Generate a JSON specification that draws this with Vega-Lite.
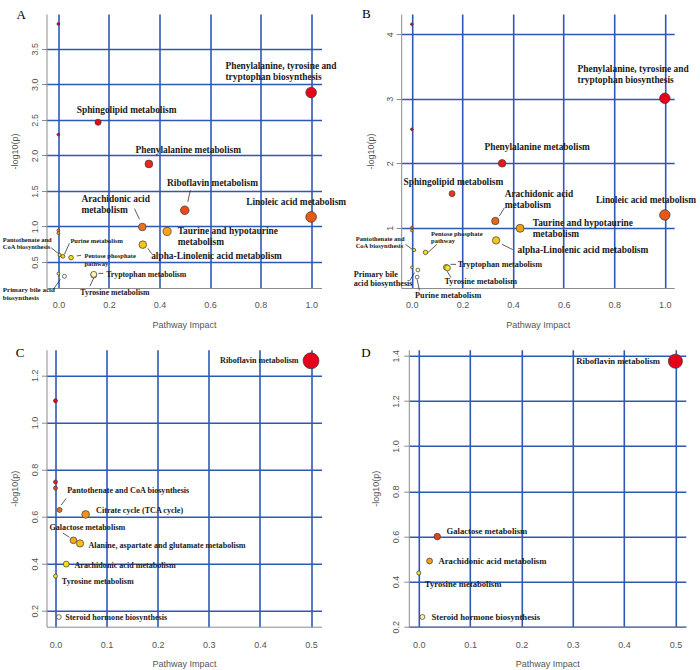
{
  "$schema": "https://vega.github.io/schema/vega-lite/v6.json",
  "padding": {"left": 2.5, "top": 8, "right": 0, "bottom": 0},
  "bounds": "full",
  "spacing": 16.7,
  "resolve": {"scale": {"x": "independent", "y": "independent", "color": "independent", "size": "independent"}},
  "config": {
    "view": {"stroke": null},
    "axis": {"domainColor": "#8c8c8c", "domainWidth": 1, "grid": true, "gridColor": "#2f58b4", "gridWidth": 1.6, "gridOpacity": 1, "labelColor": "#555555", "labelFont": "Liberation Sans", "labelFontSize": 9, "titleColor": "#555555", "titleFont": "Liberation Sans", "titleFontSize": 9, "titleFontWeight": "normal", "tickColor": "#8c8c8c", "labelFlush": false, "labelOverlap": false},
    "axisX": {"ticks": false, "tickSize": 0, "labelPadding": 12, "titleY": 36, "titleBaseline": "middle"},
    "axisY": {"ticks": true, "tickSize": 5, "labelAngle": 270, "labelAlign": "center", "labelBaseline": "bottom", "labelPadding": 2, "titleX": -32, "titleBaseline": "middle", "titleAlign": "center", "titleAngle": 270}
  },
  "datasets": {
    "A_pts": [
      {"pathway": "", "impact": 0, "logp": 3.85},
      {"pathway": "Phenylalanine, tyrosine and tryptophan biosynthesis", "impact": 1.0, "logp": 2.885},
      {"pathway": "Sphingolipid metabolism", "impact": 0.157, "logp": 2.467},
      {"pathway": "", "impact": 0, "logp": 2.293},
      {"pathway": "Phenylalanine metabolism", "impact": 0.358, "logp": 1.88},
      {"pathway": "Riboflavin metabolism", "impact": 0.5, "logp": 1.228},
      {"pathway": "Linoleic acid metabolism", "impact": 1.0, "logp": 1.134},
      {"pathway": "Arachidonic acid metabolism", "impact": 0.332, "logp": 0.993},
      {"pathway": "Taurine and hypotaurine metabolism", "impact": 0.43, "logp": 0.93},
      {"pathway": "alpha-Linolenic acid metabolism", "impact": 0.334, "logp": 0.744},
      {"pathway": "", "impact": 0, "logp": 0.945},
      {"pathway": "", "impact": 0, "logp": 0.905},
      {"pathway": "Pantothenate and CoA biosynthesis", "impact": 0.005, "logp": 0.599},
      {"pathway": "Purine metabolism", "impact": 0.018, "logp": 0.58},
      {"pathway": "Pentose phosphate pathway", "impact": 0.05, "logp": 0.561},
      {"pathway": "Primary bile acid biosynthesis", "impact": 0, "logp": 0.336},
      {"pathway": "", "impact": 0.024, "logp": 0.298},
      {"pathway": "Tyrosine metabolism", "impact": 0.14, "logp": 0.315},
      {"pathway": "Tryptophan metabolism", "impact": 0.14, "logp": 0.326}
    ],
    "A_tag": [{"panel": "A", "impact": -0.166, "logp": 3.923}],
    "A_lab": [
      {"label": "Phenylalanine, tyrosine and\ntryptophan biosynthesis", "impact": 0.661, "logp": 3.214},
      {"label": "Sphingolipid metabolism", "impact": 0.0726, "logp": 2.599},
      {"label": "Phenylalanine metabolism", "impact": 0.305, "logp": 2.035},
      {"label": "Riboflavin metabolism", "impact": 0.43, "logp": 1.57},
      {"label": "Linoleic acid metabolism", "impact": 0.743, "logp": 1.298},
      {"label": "Arachidonic acid\nmetabolism", "impact": 0.091, "logp": 1.345},
      {"label": "Taurine and hypotaurine\nmetabolism", "impact": 0.472, "logp": 0.894},
      {"label": "alpha-Linolenic acid metabolism", "impact": 0.367, "logp": 0.538}
    ],
    "A_lab_m": [
      {"label": "Tryptophan metabolism", "impact": 0.189, "logp": 0.289},
      {"label": "Tyrosine metabolism", "impact": 0.087, "logp": 0.04}
    ],
    "A_lab_p": [
      {"label": "Primary bile acid\nbiosynthesis", "impact": -0.22, "logp": 0.073}
    ],
    "A_lab_s": [
      {"label": "Pantothenate and\nCoA biosynthesis", "impact": -0.22, "logp": 0.782},
      {"label": "Purine metabolism", "impact": 0.0475, "logp": 0.772},
      {"label": "Pentose phosphate\npathway", "impact": 0.103, "logp": 0.556}
    ],
    "A_lead": [
      {"impact": 0.522, "logp": 1.509, "impact2": 0.512, "logp2": 1.345},
      {"impact": 0.301, "logp": 1.251, "impact2": 0.321, "logp2": 1.101},
      {"impact": 0.354, "logp": 0.692, "impact2": 0.369, "logp2": 0.617},
      {"impact": -0.029, "logp": 0.702, "impact2": 0.004, "logp2": 0.608},
      {"impact": 0.0435, "logp": 0.763, "impact2": 0.024, "logp2": 0.608},
      {"impact": 0.0726, "logp": 0.585, "impact2": 0.0897, "logp2": 0.594},
      {"impact": -0.018, "logp": 0.124, "impact2": 0.008, "logp2": 0.256},
      {"impact": 0.158, "logp": 0.34, "impact2": 0.178, "logp2": 0.34},
      {"impact": 0.142, "logp": 0.293, "impact2": 0.125, "logp2": 0.162}
    ],
    "B_pts": [
      {"pathway": "", "impact": 0, "logp": 4.156},
      {"pathway": "Phenylalanine, tyrosine and tryptophan biosynthesis", "impact": 1.0, "logp": 3.007},
      {"pathway": "", "impact": 0, "logp": 2.526},
      {"pathway": "Phenylalanine metabolism", "impact": 0.357, "logp": 1.998},
      {"pathway": "Sphingolipid metabolism", "impact": 0.159, "logp": 1.528},
      {"pathway": "Linoleic acid metabolism", "impact": 1.0, "logp": 1.197},
      {"pathway": "Arachidonic acid metabolism", "impact": 0.33, "logp": 1.103},
      {"pathway": "Taurine and hypotaurine metabolism", "impact": 0.428, "logp": 0.99},
      {"pathway": "", "impact": 0, "logp": 1.0},
      {"pathway": "", "impact": 0, "logp": 0.955},
      {"pathway": "alpha-Linolenic acid metabolism", "impact": 0.333, "logp": 0.803},
      {"pathway": "Pantothenate and CoA biosynthesis", "impact": 0.009, "logp": 0.653},
      {"pathway": "Pentose phosphate pathway", "impact": 0.054, "logp": 0.617},
      {"pathway": "Primary bile acid biosynthesis", "impact": 0, "logp": 0.384},
      {"pathway": "", "impact": 0.024, "logp": 0.343},
      {"pathway": "Purine metabolism", "impact": 0.021, "logp": 0.234},
      {"pathway": "Tyrosine metabolism", "impact": 0.136, "logp": 0.385},
      {"pathway": "Tryptophan metabolism", "impact": 0.141, "logp": 0.376}
    ],
    "B_tag": [{"panel": "B", "impact": -0.197, "logp": 4.248}],
    "B_lab": [
      {"label": "Phenylalanine, tyrosine and\ntryptophan biosynthesis", "impact": 0.655, "logp": 3.416},
      {"label": "Phenylalanine metabolism", "impact": 0.287, "logp": 2.205},
      {"label": "Sphingolipid metabolism", "impact": -0.033, "logp": 1.657},
      {"label": "Arachidonic acid\nmetabolism", "impact": 0.367, "logp": 1.471},
      {"label": "Linoleic acid metabolism", "impact": 0.728, "logp": 1.378},
      {"label": "Taurine and hypotaurine\nmetabolism", "impact": 0.478, "logp": 1.031},
      {"label": "alpha-Linolenic acid metabolism", "impact": 0.418, "logp": 0.612}
    ],
    "B_lab_m": [
      {"label": "Tryptophan metabolism", "impact": 0.182, "logp": 0.39},
      {"label": "Tyrosine metabolism", "impact": 0.129, "logp": 0.126},
      {"label": "Primary bile\nacid biosynthesis", "impact": -0.23, "logp": 0.234},
      {"label": "Purine metabolism", "impact": 0.013, "logp": -0.086}
    ],
    "B_lab_s": [
      {"label": "Pantothenate and\nCoA biosynthesis", "impact": -0.222, "logp": 0.788},
      {"label": "Pentose phosphate\npathway", "impact": 0.076, "logp": 0.876}
    ],
    "B_lead": [
      {"impact": 0.366, "logp": 1.31, "impact2": 0.346, "logp2": 1.181},
      {"impact": 0.357, "logp": 0.741, "impact2": 0.399, "logp2": 0.659},
      {"impact": 0.153, "logp": 0.431, "impact2": 0.175, "logp2": 0.431},
      {"impact": 0.139, "logp": 0.327, "impact2": 0.155, "logp2": 0.224},
      {"impact": 0.063, "logp": 0.612, "impact2": 0.099, "logp2": 0.741},
      {"impact": -0.025, "logp": 0.741, "impact2": 0.001, "logp2": 0.664},
      {"impact": -0.009, "logp": 0.172, "impact2": 0.0105, "logp2": 0.302},
      {"impact": 0.021, "logp": 0.198, "impact2": 0.03, "logp2": 0.027}
    ],
    "C_pts": [
      {"pathway": "Riboflavin metabolism", "impact": 0.5, "logp": 1.262},
      {"pathway": "", "impact": 0, "logp": 1.092},
      {"pathway": "", "impact": 0, "logp": 0.747},
      {"pathway": "", "impact": 0, "logp": 0.721},
      {"pathway": "Pantothenate and CoA biosynthesis", "impact": 0.008, "logp": 0.628},
      {"pathway": "Citrate cycle (TCA cycle)", "impact": 0.059, "logp": 0.609},
      {"pathway": "Galactose metabolism", "impact": 0.035, "logp": 0.499},
      {"pathway": "Alanine, aspartate and glutamate metabolism", "impact": 0.048, "logp": 0.486},
      {"pathway": "Arachidonic acid metabolism", "impact": 0.021, "logp": 0.398},
      {"pathway": "Tyrosine metabolism", "impact": 0, "logp": 0.347},
      {"pathway": "Steroid hormone biosynthesis", "impact": 0.0065, "logp": 0.173}
    ],
    "C_tag": [{"panel": "C", "impact": -0.078, "logp": 1.2765}],
    "C_lab": [
      {"label": "Riboflavin metabolism", "impact": 0.322, "logp": 1.251},
      {"label": "Pantothenate and CoA biosynthesis", "impact": 0.0228, "logp": 0.7},
      {"label": "Citrate cycle (TCA cycle)", "impact": 0.0795, "logp": 0.614},
      {"label": "Galactose metabolism", "impact": -0.0117, "logp": 0.544},
      {"label": "Alanine, aspartate and glutamate metabolism", "impact": 0.0645, "logp": 0.465},
      {"label": "Arachidonic acid metabolism", "impact": 0.0372, "logp": 0.38},
      {"label": "Tyrosine metabolism", "impact": 0.0124, "logp": 0.313},
      {"label": "Steroid hormone biosynthesis", "impact": 0.0189, "logp": 0.159}
    ],
    "C_lead": [
      {"impact": 0.0209, "logp": 0.677, "impact2": 0.0111, "logp2": 0.649},
      {"impact": 0.0143, "logp": 0.53, "impact2": 0.0274, "logp2": 0.512}
    ],
    "D_pts": [
      {"pathway": "Riboflavin metabolism", "impact": 0.5, "logp": 1.376},
      {"pathway": "Galactose metabolism", "impact": 0.036, "logp": 0.599},
      {"pathway": "Arachidonic acid metabolism", "impact": 0.021, "logp": 0.491},
      {"pathway": "Tyrosine metabolism", "impact": 0, "logp": 0.438},
      {"pathway": "Steroid hormone biosynthesis", "impact": 0.007, "logp": 0.243}
    ],
    "D_tag": [{"panel": "D", "impact": -0.112, "logp": 1.396}],
    "D_lab": [
      {"label": "Riboflavin metabolism", "impact": 0.307, "logp": 1.362},
      {"label": "Galactose metabolism", "impact": 0.054, "logp": 0.61},
      {"label": "Arachidonic acid metabolism", "impact": 0.0384, "logp": 0.477},
      {"label": "Tyrosine metabolism", "impact": 0.0117, "logp": 0.377},
      {"label": "Steroid hormone biosynthesis", "impact": 0.0247, "logp": 0.2295}
    ]
  },
  "vconcat": [
    {
      "bounds": "flush",
      "spacing": 79.7,
      "resolve": {"scale": {"x": "independent", "y": "independent", "color": "independent", "size": "independent"}},
      "hconcat": [
        {
          "width": 275, "height": 274,
          "encoding": {
            "x": {"field": "impact", "type": "quantitative", "scale": {"domain": [-0.047, 1.041], "nice": false, "zero": false}, "axis": {"values": [0, 0.2, 0.4, 0.6, 0.8, 1.0], "format": ".1f", "title": "Pathway Impact"}},
            "y": {"field": "logp", "type": "quantitative", "scale": {"domain": [0.134, 3.99], "nice": false, "zero": false}, "axis": {"values": [0.5, 1, 1.5, 2, 2.5, 3, 3.5], "format": ".1f", "title": "-log10(p)"}}
          },
          "layer": [
            {"data": {"name": "A_tag"}, "mark": {"type": "text", "align": "left", "baseline": "alphabetic", "font": "Liberation Serif", "fontSize": 13, "color": "#000000"}, "encoding": {"text": {"field": "panel"}}},
            {"data": {"name": "A_lead"}, "mark": {"type": "rule", "color": "#333333", "strokeWidth": 0.8}, "encoding": {"x2": {"field": "impact2"}, "y2": {"field": "logp2"}}},
            {"data": {"name": "A_pts"}, "mark": {"type": "circle", "opacity": 1, "stroke": "#3a3a3a", "strokeWidth": 0.7},
             "encoding": {
               "size": {"field": "impact", "type": "quantitative", "scale": {"type": "pow", "exponent": 0.7, "domain": [0, 1], "range": [8, 115]}, "legend": null},
               "color": {"field": "logp", "type": "quantitative", "scale": {"type": "linear", "interpolate": "rgb", "domain": [0.29, 0.315, 0.33, 0.335, 0.6, 0.75, 0.93, 0.94, 1.0, 1.13, 1.23, 1.88, 2.29, 3.85], "range": ["#fffff2", "#fff8d0", "#fff6a0", "#f6e21c", "#f6da10", "#f5c60c", "#f4a414", "#ec8420", "#ea7019", "#e85a14", "#e84a18", "#e82818", "#e60a1a", "#e6001a"]}, "legend": null}
             }},
            {"data": {"name": "A_lab"}, "mark": {"type": "text", "align": "left", "baseline": "alphabetic", "font": "Liberation Serif", "fontWeight": "bold", "fontSize": 9.4, "lineBreak": "\n", "lineHeight": 11, "color": "#1a1a1a"}, "encoding": {"text": {"field": "label"}}},
            {"data": {"name": "A_lab_m"}, "mark": {"type": "text", "align": "left", "baseline": "alphabetic", "font": "Liberation Serif", "fontWeight": "bold", "fontSize": 7.8, "color": "#1a1a1a"}, "encoding": {"text": {"field": "label"}}},
            {"data": {"name": "A_lab_p"}, "mark": {"type": "text", "align": "left", "baseline": "alphabetic", "font": "Liberation Serif", "fontWeight": "bold", "fontSize": 7, "lineBreak": "\n", "lineHeight": 8, "color": "#1a1a1a"}, "encoding": {"text": {"field": "label"}}},
            {"data": {"name": "A_lab_s"}, "mark": {"type": "text", "align": "left", "baseline": "alphabetic", "font": "Liberation Serif", "fontWeight": "bold", "fontSize": 6.5, "lineBreak": "\n", "lineHeight": 7.5, "color": "#1a1a1a"}, "encoding": {"text": {"field": "label"}}}
          ]
        },
        {
          "width": 273, "height": 274,
          "encoding": {
            "x": {"field": "impact", "type": "quantitative", "scale": {"domain": [-0.042, 1.037], "nice": false, "zero": false}, "axis": {"values": [0, 0.2, 0.4, 0.6, 0.8, 1.0], "format": ".1f", "title": "Pathway Impact"}},
            "y": {"field": "logp", "type": "quantitative", "scale": {"domain": [0.064, 4.315], "nice": false, "zero": false}, "axis": {"values": [1, 2, 3, 4], "format": "d", "title": "-log10(p)", "titleX": -31}}
          },
          "layer": [
            {"data": {"name": "B_tag"}, "mark": {"type": "text", "align": "left", "baseline": "alphabetic", "font": "Liberation Serif", "fontSize": 13, "color": "#000000"}, "encoding": {"text": {"field": "panel"}}},
            {"data": {"name": "B_lead"}, "mark": {"type": "rule", "color": "#333333", "strokeWidth": 0.8}, "encoding": {"x2": {"field": "impact2"}, "y2": {"field": "logp2"}}},
            {"data": {"name": "B_pts"}, "mark": {"type": "circle", "opacity": 1, "stroke": "#3a3a3a", "strokeWidth": 0.7},
             "encoding": {
               "size": {"field": "impact", "type": "quantitative", "scale": {"type": "pow", "exponent": 0.7, "domain": [0, 1], "range": [7, 110]}, "legend": null},
               "color": {"field": "logp", "type": "quantitative", "scale": {"type": "linear", "interpolate": "rgb", "domain": [0.234, 0.343, 0.376, 0.384, 0.62, 0.8, 0.955, 0.99, 1.0, 1.1, 1.2, 1.53, 2.0, 2.5, 4.2], "range": ["#fffff0", "#fff8b8", "#f6e430", "#f8e81a", "#f8dc14", "#f6c80c", "#f2b41a", "#f0a016", "#ea7a1e", "#e8661a", "#e8561a", "#e8381a", "#e8181a", "#e6001a", "#e6001a"]}, "legend": null}
             }},
            {"data": {"name": "B_lab"}, "mark": {"type": "text", "align": "left", "baseline": "alphabetic", "font": "Liberation Serif", "fontWeight": "bold", "fontSize": 9.4, "lineBreak": "\n", "lineHeight": 11, "color": "#1a1a1a"}, "encoding": {"text": {"field": "label"}}},
            {"data": {"name": "B_lab_m"}, "mark": {"type": "text", "align": "left", "baseline": "alphabetic", "font": "Liberation Serif", "fontWeight": "bold", "fontSize": 8.2, "lineBreak": "\n", "lineHeight": 9.3, "color": "#1a1a1a"}, "encoding": {"text": {"field": "label"}}},
            {"data": {"name": "B_lab_s"}, "mark": {"type": "text", "align": "left", "baseline": "alphabetic", "font": "Liberation Serif", "fontWeight": "bold", "fontSize": 6.5, "lineBreak": "\n", "lineHeight": 7, "color": "#1a1a1a"}, "encoding": {"text": {"field": "label"}}}
          ]
        }
      ]
    },
    {
      "bounds": "flush",
      "spacing": 87.3,
      "resolve": {"scale": {"x": "independent", "y": "independent", "color": "independent", "size": "independent"}},
      "hconcat": [
        {
          "width": 275, "height": 277,
          "encoding": {
            "x": {"field": "impact", "type": "quantitative", "scale": {"domain": [-0.0176, 0.5205], "nice": false, "zero": false}, "axis": {"values": [0, 0.1, 0.2, 0.3, 0.4, 0.5], "format": ".1f", "title": "Pathway Impact", "titleY": 37, "labelPadding": 13.5}},
            "y": {"field": "logp", "type": "quantitative", "scale": {"domain": [0.132, 1.309], "nice": false, "zero": false}, "axis": {"values": [0.2, 0.4, 0.6, 0.8, 1.0, 1.2], "format": ".1f", "title": "-log10(p)"}}
          },
          "layer": [
            {"data": {"name": "C_tag"}, "mark": {"type": "text", "align": "left", "baseline": "alphabetic", "font": "Liberation Serif", "fontSize": 13, "color": "#000000"}, "encoding": {"text": {"field": "panel"}}},
            {"data": {"name": "C_lead"}, "mark": {"type": "rule", "color": "#333333", "strokeWidth": 0.8}, "encoding": {"x2": {"field": "impact2"}, "y2": {"field": "logp2"}}},
            {"data": {"name": "C_pts"}, "mark": {"type": "circle", "opacity": 1, "stroke": "#3a3a3a", "strokeWidth": 0.7},
             "encoding": {
               "size": {"field": "impact", "type": "quantitative", "scale": {"type": "pow", "exponent": 0.8, "domain": [0, 0.5], "range": [16, 254]}, "legend": null},
               "color": {"field": "logp", "type": "quantitative", "scale": {"type": "linear", "interpolate": "rgb", "domain": [0.173, 0.347, 0.398, 0.486, 0.499, 0.609, 0.628, 0.721, 0.747, 1.092, 1.262], "range": ["#fffce0", "#f6e42e", "#f8de12", "#f6be14", "#f5aa18", "#f0921e", "#ec6e1c", "#e8441a", "#e8201a", "#e6001a", "#e6001a"]}, "legend": null}
             }},
            {"data": {"name": "C_lab"}, "mark": {"type": "text", "align": "left", "baseline": "alphabetic", "font": "Liberation Serif", "fontWeight": "bold", "fontSize": 8.1, "color": "#1a1a1a"}, "encoding": {"text": {"field": "label"}}}
          ]
        },
        {
          "width": 277, "height": 277,
          "encoding": {
            "x": {"field": "impact", "type": "quantitative", "scale": {"domain": [-0.0195, 0.5203], "nice": false, "zero": false}, "axis": {"values": [0, 0.1, 0.2, 0.3, 0.4, 0.5], "format": ".1f", "title": "Pathway Impact", "titleY": 37, "labelPadding": 13.5}},
            "y": {"field": "logp", "type": "quantitative", "scale": {"domain": [0.2, 1.427], "nice": false, "zero": false}, "axis": {"values": [0.2, 0.4, 0.6, 0.8, 1.0, 1.2, 1.4], "format": ".1f", "title": "-log10(p)", "titleX": -33.6, "labelPadding": 3}}
          },
          "layer": [
            {"data": {"name": "D_tag"}, "mark": {"type": "text", "align": "left", "baseline": "alphabetic", "font": "Liberation Serif", "fontSize": 13, "color": "#000000"}, "encoding": {"text": {"field": "panel"}}},
            {"data": {"name": "D_pts"}, "mark": {"type": "circle", "opacity": 1, "stroke": "#3a3a3a", "strokeWidth": 0.7},
             "encoding": {
               "size": {"field": "impact", "type": "quantitative", "scale": {"type": "pow", "exponent": 0.75, "domain": [0, 0.5], "range": [17, 200]}, "legend": null},
               "color": {"field": "logp", "type": "quantitative", "scale": {"type": "linear", "interpolate": "rgb", "domain": [0.243, 0.438, 0.491, 0.599, 1.376], "range": ["#fff7a0", "#f6e41e", "#f5a014", "#e8401a", "#e6001a"]}, "legend": null}
             }},
            {"data": {"name": "D_lab"}, "mark": {"type": "text", "align": "left", "baseline": "alphabetic", "font": "Liberation Serif", "fontWeight": "bold", "fontSize": 8.65, "color": "#1a1a1a"}, "encoding": {"text": {"field": "label"}}}
          ]
        }
      ]
    }
  ]
}
